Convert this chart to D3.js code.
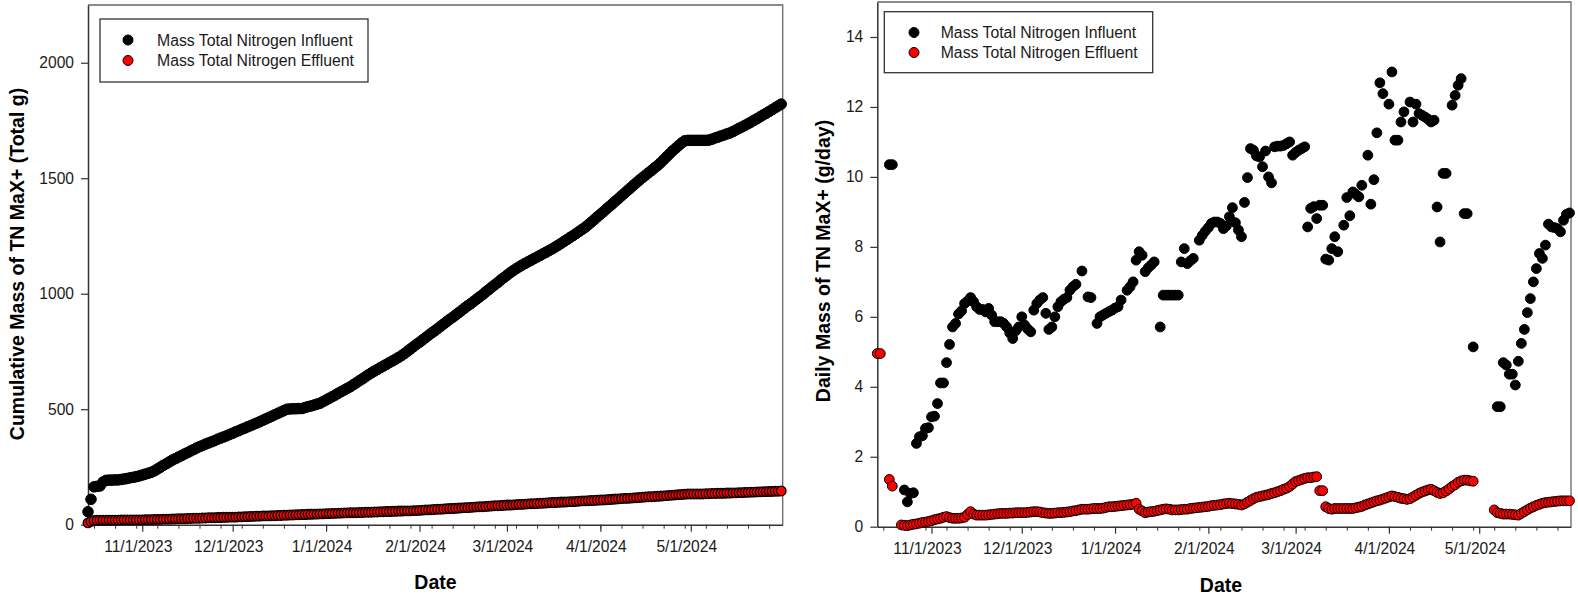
<!DOCTYPE html>
<html><head><meta charset="utf-8">
<script src="https://cdn.jsdelivr.net/npm/d3@7"></script>
<style>
body{margin:0;background:#fff;}
svg{display:block;}
text{font-family:"Liberation Sans",Arial,sans-serif;}
</style>
</head><body>
<svg id="chart" width="1578" height="599"></svg>
<script>
// ---------------- DATA ----------------
const startDate = "2023-10-14";           // first day of the records (one value per day)
const endDateLimit = "2024-05-31";
const seriesNames = ["Mass Total Nitrogen Influent", "Mass Total Nitrogen Effluent"];
const seriesColors = ["#000000", "#ff0000"];
const yTicksCumulative = [0, 500, 1000, 1500, 2000];
const yTicksDaily = [0, 2, 4, 6, 8, 10, 12, 14];
const xTitle = "Date";
const yTitleCumulative = "Cumulative Mass of TN MaX+ (Total g)";
const yTitleDaily = "Daily Mass of TN MaX+ (g/day)";

// Daily mass (g/day), influent
const dailyInfluent = [
 null,null,null,null,10.35,10.35,null,null,null,1.05,
 0.71,0.95,0.97,2.38,2.57,2.6,2.81,2.83,3.14,3.16,
 3.52,4.11,4.11,4.69,5.21,5.71,5.81,6.08,6.17,6.38,
 6.45,6.55,6.43,6.29,6.21,6.21,6.14,6.24,6.05,5.86,
 5.86,5.86,5.81,5.71,5.54,5.38,5.6,5.71,6.0,5.76,
 5.65,5.57,6.19,6.38,6.48,6.55,6.1,5.64,5.71,6.0,
 6.29,6.43,6.5,6.55,6.76,6.86,6.93,null,7.31,null,
 6.57,6.55,null,5.81,6.0,6.05,6.1,6.15,6.19,6.25,
 6.29,6.48,null,6.76,6.86,7.0,7.62,7.86,7.76,7.29,
 7.4,7.48,7.57,null,5.71,6.62,6.62,6.62,6.62,6.62,
 6.62,7.57,7.95,7.52,7.6,7.67,null,8.19,8.33,8.45,
 8.55,8.67,8.71,8.71,8.67,8.52,8.6,8.86,9.12,8.69,
 8.48,8.29,9.27,9.98,10.81,10.76,10.6,10.57,10.29,10.74,
 10.0,9.83,10.86,10.88,10.88,10.9,10.95,11.0,10.62,10.7,
 10.76,10.81,10.86,8.57,9.1,9.15,8.81,9.19,9.19,7.65,
 7.62,7.95,8.29,7.86,null,8.62,9.41,8.89,9.57,9.5,
 9.43,9.76,null,10.62,9.22,9.92,11.26,12.69,12.38,null,
 12.08,13.0,11.05,11.05,11.57,11.86,null,12.14,11.57,12.08,
 11.81,11.76,11.71,11.65,11.57,11.62,9.14,8.14,10.1,10.1,
 null,12.05,12.33,12.62,12.81,8.95,8.95,null,5.14,null,
 null,null,null,null,null,null,3.43,3.43,4.69,4.62,
 4.36,4.36,4.05,4.73,5.24,5.64,6.12,6.52,7.0,7.38,
 7.81,7.67,8.05,8.65,8.57,8.55,8.52,8.43,8.76,8.93,
 8.97
];

// Daily mass (g/day), effluent
const dailyEffluent = [
 4.95,4.95,null,null,1.35,1.16,null,null,0.05,0.04,
 0.03,0.05,0.07,0.08,0.1,0.12,0.13,0.15,0.17,0.2,
 0.22,0.24,0.27,0.29,0.26,0.24,0.24,0.24,0.25,0.27,
 0.35,0.43,0.36,0.33,0.33,0.33,0.33,0.34,0.35,0.36,
 0.37,0.38,0.38,0.38,0.39,0.39,0.4,0.4,0.4,0.4,
 0.41,0.42,0.43,0.43,0.42,0.4,0.39,0.38,0.38,0.39,
 0.4,0.4,0.41,0.42,0.43,0.45,0.46,0.48,0.5,0.5,
 0.5,0.51,0.52,0.52,0.52,0.53,0.55,0.57,0.57,0.58,
 0.59,0.6,0.61,0.62,0.63,0.64,0.67,0.5,0.45,0.4,
 0.42,0.43,0.44,0.46,0.48,0.5,0.51,0.5,0.48,0.48,
 0.48,0.49,0.5,0.5,0.52,0.53,0.54,0.55,0.56,0.57,
 0.58,0.6,0.61,0.62,0.63,0.65,0.66,0.67,0.66,0.65,
 0.64,0.62,0.65,0.7,0.75,0.8,0.84,0.86,0.88,0.9,
 0.92,0.95,0.97,1.0,1.03,1.07,1.1,1.15,1.22,1.29,
 1.32,1.35,1.38,1.4,1.4,1.42,1.43,1.03,1.03,0.57,
 0.52,0.5,0.52,0.52,0.52,0.52,0.52,0.52,0.52,0.54,
 0.56,0.58,0.62,0.65,0.68,0.71,0.74,0.76,0.79,0.82,
 0.85,0.88,0.86,0.84,0.81,0.8,0.78,0.8,0.85,0.9,
 0.95,0.99,1.02,1.05,1.07,1.03,0.98,0.95,0.97,1.02,
 1.08,1.15,1.2,1.27,1.31,1.33,1.33,1.31,1.3,null,
 null,null,null,null,null,0.48,0.4,0.38,0.36,0.36,
 0.36,0.35,0.34,0.33,0.38,0.43,0.48,0.53,0.57,0.61,
 0.64,0.67,0.69,0.7,0.71,0.72,0.73,0.74,0.74,0.74,
 0.74
];

// Cumulative mass (g), influent
const cumulativeInfluent = [
 56,110,164,166,168,185,192,193,193,194,
 194,196,198,200,203,205,208,211,215,219,
 223,227,233,241,249,257,264,272,280,286,
 293,299,306,312,319,325,332,338,343,349,
 354,359,364,370,375,380,385,391,396,402,
 407,413,418,424,429,435,440,446,452,458,
 464,470,476,482,488,494,500,501,502,502,
 503,503,507,511,514,518,522,526,533,540,
 547,554,561,569,576,583,590,597,606,614,
 623,631,640,649,657,665,672,680,687,694,
 702,709,716,724,732,741,751,761,771,781,
 790,800,810,820,830,839,849,859,869,879,
 889,898,908,918,928,938,948,957,967,977,
 987,997,1008,1018,1029,1039,1049,1060,1070,1080,
 1090,1099,1108,1116,1124,1131,1138,1145,1152,1159,
 1166,1173,1180,1187,1194,1202,1210,1218,1227,1235,
 1244,1252,1261,1270,1279,1288,1299,1310,1321,1333,
 1344,1355,1367,1378,1389,1401,1412,1424,1435,1447,
 1458,1470,1481,1492,1503,1513,1524,1534,1545,1555,
 1567,1580,1593,1606,1619,1630,1642,1653,1662,1664,
 1664,1664,1664,1664,1664,1664,1665,1669,1674,1678,
 1683,1687,1692,1696,1702,1709,1716,1722,1729,1736,
 1743,1751,1758,1766,1774,1781,1789,1797,1805,1813,
 1821
];

// Cumulative mass (g), effluent
const cumulativeEffluent = [
 8,14,18,19,20,20,20,20,20,20,
 20,21,21,21,21,21,21,21,21,22,
 22,22,23,23,23,24,24,24,25,25,
 26,26,26,27,27,28,28,28,29,29,
 30,30,30,31,31,32,32,33,33,33,
 34,34,35,35,36,36,37,37,38,38,
 38,39,39,40,40,41,41,42,42,43,
 43,44,44,45,45,46,46,47,47,48,
 48,49,49,50,50,51,51,52,52,52,
 53,53,54,54,54,55,55,56,56,57,
 57,58,58,59,59,60,60,60,61,61,
 62,63,64,64,65,66,67,67,68,69,
 70,70,71,72,73,74,74,75,76,77,
 78,78,79,80,81,82,82,83,84,85,
 85,86,87,88,88,89,90,91,91,92,
 93,93,94,95,96,96,97,98,98,99,
 100,100,101,102,103,103,104,105,105,106,
 107,107,108,109,110,111,112,113,114,114,
 115,116,117,118,119,120,121,121,122,123,
 124,125,126,127,128,129,130,131,132,133,
 133,133,133,133,133,134,134,135,135,136,
 136,136,137,137,138,138,139,139,140,140,
 141,141,142,142,143,143,144,144,145,145,
 146
];

// ---------------- CHART ----------------
const svg = d3.select("#chart");
svg.append("rect").attr("width",1578).attr("height",599).attr("fill","#fff");

const parse = d3.timeParse("%Y-%m-%d");
const t0 = parse(startDate);
const tEnd = d3.timeHour.offset(parse(endDateLimit), 12);
const dayOf = i => d3.timeDay.offset(t0, i);
const fmt = d3.timeFormat("%-m/%-d/%Y");

function toPoints(arr){
  return arr.map((v,i)=>({date:dayOf(i), v})).filter(d=>d.v!==null);
}

function panel(p){
  const x = d3.scaleTime().domain([t0, tEnd]).range([p.x0, p.x1]);
  const y = d3.scaleLinear().domain(p.yDomain).range([p.y1, p.y0]);
  const g = svg.append("g");

  // frame (top & right)
  g.append("path")
    .attr("d", `M${p.x0},${p.y0}H${p.x1}V${p.y1}`)
    .attr("fill","none").attr("stroke","#666").attr("stroke-width",1.3);

  // y axis
  const ya = g.append("g").attr("transform",`translate(${p.x0},0)`)
    .call(d3.axisLeft(y).tickValues(p.yTicks).tickFormat(d3.format("d"))
      .tickSize(7).tickPadding(7).tickSizeOuter(0));
  ya.select(".domain").attr("stroke","#333").attr("stroke-width",1.5);
  ya.selectAll(".tick line").attr("stroke","#333").attr("stroke-width",1.2);
  ya.selectAll(".tick text").attr("font-size","15.6px").attr("fill","#1a1a1a")
    .attr("font-family","Liberation Sans, Arial, sans-serif");

  // x axis minor (weekly, Mondays)
  const mondays = d3.timeMonday.range(t0, tEnd);
  const xm = g.append("g").attr("transform",`translate(0,${p.y1})`)
    .call(d3.axisBottom(x).tickValues(mondays).tickSize(4).tickFormat(""));
  xm.select(".domain").remove();
  xm.selectAll(".tick line").attr("stroke","#333");

  // x axis major (months)
  const months = d3.timeMonth.range(d3.timeMonth.ceil(t0), tEnd);
  const xa = g.append("g").attr("transform",`translate(0,${p.y1})`)
    .call(d3.axisBottom(x).tickValues(months).tickSize(7).tickPadding(9).tickFormat(fmt).tickSizeOuter(0));
  xa.select(".domain").attr("stroke","#333").attr("stroke-width",1.5);
  xa.selectAll(".tick line").attr("stroke","#333").attr("stroke-width",1.2);
  xa.selectAll(".tick text").attr("font-size","15.6px").attr("fill","#1a1a1a")
    .attr("dx","-4.5").attr("font-family","Liberation Sans, Arial, sans-serif");

  // titles
  g.append("text").attr("x",p.xTitleX).attr("y",p.xTitleY).attr("text-anchor","middle")
    .attr("font-size","19.5px").attr("font-weight","bold").text(xTitle);
  g.append("text").attr("transform",`translate(${p.yTitleX},${p.yTitleY}) rotate(-90)`)
    .attr("text-anchor","middle").attr("font-size","19.5px").attr("font-weight","bold").text(p.yTitle);

  // points
  p.series.forEach((s,k)=>{
    g.append("g").selectAll("circle").data(toPoints(s)).join("circle")
      .attr("cx",d=>x(d.date)).attr("cy",d=>y(d.v))
      .attr("r",p.r[k]).attr("fill",seriesColors[k])
      .attr("stroke","#000").attr("stroke-width",p.sw[k]);
  });

  // legend
  const L = p.legend;
  g.append("rect").attr("x",L.x).attr("y",L.y).attr("width",L.w).attr("height",L.h)
    .attr("fill","#fff").attr("stroke","#333").attr("stroke-width",1.3);
  seriesNames.forEach((name,k)=>{
    const cy = L.rows[k];
    g.append("circle").attr("cx",L.sx).attr("cy",cy).attr("r",5)
      .attr("fill",seriesColors[k]).attr("stroke","#000").attr("stroke-width",1);
    g.append("text").attr("x",L.tx).attr("y",cy).attr("dy","0.36em")
      .attr("font-size","15.8px").attr("fill","#1a1a1a").text(name);
  });
}

panel({
  x0:88, x1:782.7, y0:5, y1:524.7,
  yDomain:[0,2250], yTicks:yTicksCumulative,
  yTitle:yTitleCumulative, yTitleX:23.5, yTitleY:264,
  xTitleX:435.5, xTitleY:588.5,
  series:[cumulativeInfluent, cumulativeEffluent], r:[5.3,4.8], sw:[1,1.3],
  legend:{x:100, y:19, w:268, h:63, sx:128, tx:157, rows:[40,60.5]}
});

panel({
  x0:877.3, x1:1571, y0:2, y1:526.7,
  yDomain:[0,15], yTicks:yTicksDaily,
  yTitle:yTitleDaily, yTitleX:830, yTitleY:261,
  xTitleX:1221, xTitleY:592,
  series:[dailyInfluent, dailyEffluent], r:[4.9,4.9], sw:[1,1],
  legend:{x:884.3, y:11.7, w:268.4, h:61, sx:914, tx:940.7, rows:[32.5,52.5]}
});
</script>
</body></html>
